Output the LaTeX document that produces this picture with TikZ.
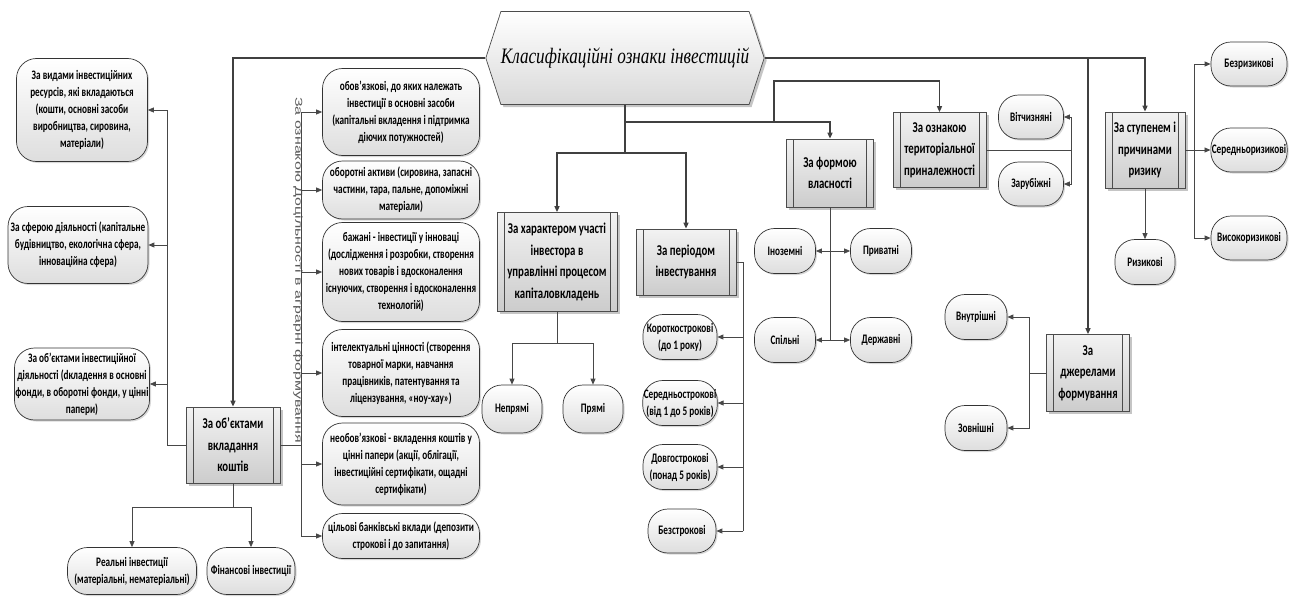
\documentclass[tikz,border=0pt]{standalone}
\usepackage{fontspec}
\newfontfamily\cf{Carlito}[FakeStretch=0.71]
\newfontfamily\cfb{Carlito}[FakeStretch=0.72]
\newfontfamily\ttlfont{Liberation Serif}[FakeStretch=0.78]
\newfontfamily\rotfont{Liberation Sans}[FakeStretch=1.6]
\usetikzlibrary{arrows.meta,shapes.symbols,shadows}
\begin{document}
\begin{tikzpicture}[x=1pt,y=-1pt,
  conn/.style={draw=black!72, line width=0.8pt},
  trunk/.style={draw=black!75, line width=1.4pt},
  arr/.style={-{Triangle[length=6pt,width=5pt]}},
  darr/.style={{Triangle[length=6pt,width=5pt]}-{Triangle[length=6pt,width=5pt]}},
  ell/.style={draw=black!80, line width=0.7pt, rounded corners=20pt, top color=white, bottom color=black!13,
    drop shadow={shadow xshift=1.5pt, shadow yshift=-1.5pt, fill=black!30},
    align=center, inner sep=1pt, font=\cf\bfseries\fontsize{13}{17}\selectfont},
  box/.style={draw=black!70, line width=0.7pt, top color=black!5, bottom color=black!20,
    drop shadow={shadow xshift=2.5pt, shadow yshift=-2.5pt, fill=black!45},
    align=center, inner sep=1pt, font=\cfb\bfseries\fontsize{15}{21.5}\selectfont,
    path picture={\draw[black!70,line width=0.5pt]
      ([xshift=7pt]path picture bounding box.north west) -- ([xshift=7pt]path picture bounding box.south west)
      ([xshift=-7pt]path picture bounding box.north east) -- ([xshift=-7pt]path picture bounding box.south east);}},
]
\useasboundingbox (0,0) rectangle (1294,597);

% title
\node[signal, signal to=east and west, signal pointer angle=144, minimum width=262pt, minimum height=93pt,
  inner sep=0pt, draw=black!70, line width=0.7pt, top color=white, bottom color=black!15,
  drop shadow={shadow xshift=2.5pt, shadow yshift=-2.5pt, fill=black!45},
  font=\ttlfont\itshape\fontsize{22}{26}\selectfont] (title) at (625,58) {Класифікаційні ознаки інвестицій};

% left column
\node[ell, minimum width=131pt, minimum height=103pt] (L1) at (82,110) {За видами інвестиційних\\ресурсів, які вкладаються\\(кошти, основні засоби\\виробництва, сировина,\\матеріали)};
\node[ell, minimum width=140pt, minimum height=77pt] (L2) at (78,245) {За сферою діяльності (капітальне\\будівництво, екологічна сфера,\\інноваційна сфера)};
\node[ell, minimum width=133pt, minimum height=72pt] (L3) at (82,384) {За об’єктами інвестиційної\\діяльності (dкладення в основні\\фонди, в оборотні фонди, у цінні\\папери)};

\node[box, minimum width=94pt, minimum height=76pt] (obj) at (233,445) {За об’єктами\\вкладання\\коштів};
\node[ell, minimum width=129pt, minimum height=47pt] (real) at (132,571) {Реальні інвестиції\\(матеріальні, нематеріальні)};
\node[ell, minimum width=88pt, minimum height=47pt] (fin) at (251,571) {Фінансові інвестиції};

% center-left column
\node[ell, minimum width=157pt, minimum height=87pt] (C1) at (401,112) {обов’язкові, до яких належать\\інвестиції в основні засоби\\(капітальні вкладення і підтримка\\діючих потужностей)};
\node[ell, minimum width=157pt, minimum height=58pt] (C2) at (401,190) {оборотні активи (сировина, запасні\\частини, тара, пальне, допоміжні\\матеріали)};
\node[ell, minimum width=157pt, minimum height=99pt] (C3) at (401,272) {бажані - інвестиції у інноваці\\(дослідження і розробки, створення\\нових товарів і вдосконалення\\існуючих, створення і вдосконалення\\технологій)};
\node[ell, minimum width=157pt, minimum height=87pt] (C4) at (401,373) {інтелектуальні цінності (створення\\товарної марки, навчання\\працівників, патентування та\\ліцензування, «ноу-хау»)};
\node[ell, minimum width=157pt, minimum height=82pt] (C5) at (401,464) {необов’язкові - вкладення коштів у\\цінні папери (акції, облігації,\\інвестиційні сертифікати, ощадні\\сертифікати)};
\node[ell, minimum width=157pt, minimum height=45pt] (C6) at (401,536) {цільові банківські вклади (депозити\\строкові і до запитання)};

\node[rotate=-90, text=black!65, inner sep=0pt, font=\rotfont\fontsize{10}{12}\selectfont] (vt) at (298,270) {За ознакою Доцільності в аграрні формування};

% character of participation
\node[box, minimum width=120pt, minimum height=99pt] (char) at (557,262) {За характером участі\\інвестора в\\управлінні процесом\\капіталовкладень};
\node[ell, minimum width=60pt, minimum height=48pt] (nepr) at (512,409) {Непрямі};
\node[ell, minimum width=60pt, minimum height=48pt] (pryam) at (593,409) {Прямі};

% period
\node[box, minimum width=100pt, minimum height=66pt] (period) at (686,262) {За періодом\\інвестування};
\node[ell, minimum width=74pt, minimum height=45pt] (k1) at (680,337) {Короткострокові\\(до 1 року)};
\node[ell, minimum width=74pt, minimum height=45pt] (k2) at (680,403) {Середньострокові\\(від 1 до 5 років)};
\node[ell, minimum width=74pt, minimum height=45pt] (k3) at (680,467) {Довгострокові\\(понад 5 років)};
\node[ell, minimum width=68pt, minimum height=44pt] (k4) at (682,531) {Безстрокові};

% form of ownership
\node[box, minimum width=87pt, minimum height=68pt] (form) at (830,173) {За формою\\власності};
\node[ell, minimum width=61pt, minimum height=45pt] (inoz) at (785,251) {Іноземні};
\node[ell, minimum width=61pt, minimum height=45pt] (pryv) at (881,251) {Приватні};
\node[ell, minimum width=61pt, minimum height=45pt] (spil) at (785,340) {Спільні};
\node[ell, minimum width=61pt, minimum height=45pt] (derzh) at (881,340) {Державні};

% territory
\node[box, minimum width=93pt, minimum height=75pt] (terr) at (939.5,150) {За ознакою\\територіальної\\приналежності};
\node[ell, minimum width=65pt, minimum height=44pt] (vitch) at (1031,117) {Вітчизняні};
\node[ell, minimum width=65pt, minimum height=44pt] (zarub) at (1031,184) {Зарубіжні};

% risk
\node[box, minimum width=80pt, minimum height=76pt] (risk) at (1145,150) {За ступенем і\\причинами\\ризику};
\node[ell, minimum width=76pt, minimum height=44pt] (bez) at (1249,64) {Безризикові};
\node[ell, minimum width=76pt, minimum height=44pt] (ser) at (1249,150) {Середньоризикові};
\node[ell, minimum width=76pt, minimum height=44pt] (vys) at (1249,238) {Високоризикові};
\node[ell, minimum width=60pt, minimum height=45pt] (ryz) at (1145,262) {Ризикові};

% sources
\node[box, minimum width=83pt, minimum height=77pt] (dzh) at (1088,373) {За\\джерелами\\формування};
\node[ell, minimum width=62pt, minimum height=45pt] (vnutr) at (976,317) {Внутрішні};
\node[ell, minimum width=62pt, minimum height=45pt] (zovn) at (976,428) {Зовнішні};

% ---------- connectors ----------
\draw[trunk, arr] (title.west) -| (obj.north);
\draw[trunk, arr] (title.east) -| (risk.north);
\draw[trunk, arr] (title.east -| dzh.north) -- (dzh.north);

\coordinate (j1) at (625,122);
\coordinate (j2) at (625,153);
\coordinate (j3) at (774,122);
\coordinate (j4) at (774,81);
\draw[trunk] (title.south) -- (j2);
\draw[trunk, arr] (j1) -| (form.north);
\draw[trunk, arr] (j3) -- (j4) -| (terr.north);
\draw[trunk, arr] (j2) -| (char.north);
\draw[trunk, arr] (j2) -| (period.north);

% objects box
\coordinate (oj) at (167,445);
\draw[conn] (obj.west) -- (oj) -- (oj |- L1.east);
\draw[conn, arr] (oj |- L1.east) -- (L1.east);
\draw[conn, arr] (oj |- L2.east) -- (L2.east);
\draw[conn, arr] (oj |- L3.east) -- (L3.east);

\coordinate (rj) at (301,445);
\draw[conn] (obj.east) -- (rj);
\draw[conn] (rj |- C1.west) -- (rj |- C6.west);
\foreach \n in {C1,C2,C3,C4,C5,C6} \draw[conn, arr] (rj |- \n.west) -- (\n.west);

\coordinate (bj) at (233,507);
\draw[conn] (obj.south) -- (bj);
\draw[conn, arr] (bj) -| (real.north);
\draw[conn, arr] (bj) -| (fin.north);

% character children
\coordinate (cj) at (557,343);
\draw[conn] (char.south) -- (cj);
\draw[conn, arr] (cj) -| (nepr.north);
\draw[conn, arr] (cj) -| (pryam.north);

% period children
\coordinate (pj) at (743,262);
\draw[conn] (period.east) -- (pj) -- (pj |- k4.east);
\foreach \n in {k1,k2,k3,k4} \draw[conn, arr] (pj |- \n.east) -- (\n.east);

% form children
\draw[conn] (form.south) -- (form.south |- spil.east);
\draw[conn, darr] (inoz.east) -- (pryv.west);
\draw[conn, darr] (spil.east) -- (derzh.west);

% territory children
\coordinate (tj) at (1071,150);
\draw[conn] (terr.east) -- (tj);
\draw[conn, arr] (tj) |- (vitch.east);
\draw[conn, arr] (tj) |- (zarub.east);

% risk children
\coordinate (rk) at (1194,150);
\draw[conn, arr] (risk.east) -- (ser.west);
\draw[conn, arr] (rk) |- (bez.west);
\draw[conn, arr] (rk) |- (vys.west);
\draw[conn, arr] (risk.south) -- (ryz.north);

% sources children
\coordinate (dj) at (1029,373);
\draw[conn] (dzh.west) -- (dj);
\draw[conn, arr] (dj) |- (vnutr.east);
\draw[conn, arr] (dj) |- (zovn.east);
\end{tikzpicture}
\end{document}
